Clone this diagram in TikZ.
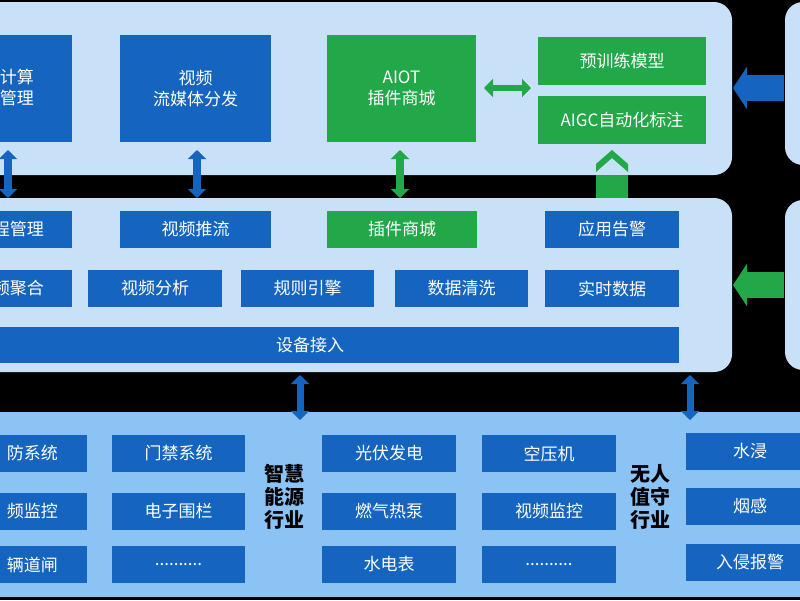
\documentclass[tikz,border=0pt]{standalone}
\usepackage{fontspec}
\setmainfont{Noto Sans CJK SC}
\usetikzlibrary{arrows.meta}
\definecolor{pnl}{RGB}{200,225,248}
\definecolor{pnlb}{RGB}{140,195,245}
\definecolor{bb}{RGB}{21,101,192}
\definecolor{gg}{RGB}{34,168,72}
\begin{document}
\begin{tikzpicture}[x=1pt,y=-1pt,
 box/.style={fill=bb,text=white,inner sep=0,align=center,font=\fontsize{17}{21}\selectfont},
 gbox/.style={box,fill=gg},
 dab/.style={line width=8pt,{Triangle[length=9pt,width=18pt]}-{Triangle[length=9pt,width=18pt]}},
 lab/.style={inner sep=0,align=center,font=\bfseries\fontsize{20}{23}\selectfont}]
\useasboundingbox (0,0) rectangle (800,600);
\clip (0,0) rectangle (800,600);
\fill[black] (0,0) rectangle (800,600);
% panels
\fill[pnl,rounded corners=18] (-40,2) rectangle (732,175);
\fill[pnl,rounded corners=18] (-40,198) rectangle (732,372);
\fill[pnl,rounded corners=18] (785,2) rectangle (840,165);
\fill[pnl,rounded corners=18] (785,200) rectangle (840,370);
\fill[pnlb] (-10,412) rectangle (810,597);
% top
\fill[bb] (-80,35) rectangle (72,142);
\node[box,fill=none,anchor=east] (t1) at (34,88) {计算\\管理};
\node[box,minimum width=151,minimum height=107] (t2) at (195.5,88.5) {视频\\流媒体分发};
\node[gbox,minimum width=149,minimum height=107] (t3) at (401.5,88.5) {AIOT\\插件商城};
\node[gbox,minimum width=168,minimum height=48] (t4) at (622,61) {预训练模型};
\node[gbox,minimum width=168,minimum height=48] (t5) at (622,120) {AIGC自动化标注};
\draw[dab,gg,line width=6pt] (484,88) -- (531,88);
% middle
\fill[bb] (-80,211) rectangle (72,248);
\node[box,fill=none,anchor=east] (m1) at (44,229.5) {程管理};
\node[box,minimum width=151,minimum height=37] (m2) at (195.5,229.5) {视频推流};
\node[gbox,minimum width=150,minimum height=37] (m3) at (402,229.5) {插件商城};
\node[box,minimum width=134,minimum height=37] (m4) at (612,229.5) {应用告警};
\fill[bb] (-80,270) rectangle (72,307);
\node[box,fill=none,anchor=east] (n1) at (44,288.5) {频聚合};
\node[box,minimum width=134,minimum height=37] (n2) at (155,288.5) {视频分析};
\node[box,minimum width=133,minimum height=37] (n3) at (307.5,288.5) {规则引擎};
\node[box,minimum width=133,minimum height=37] (n4) at (461.5,288.5) {数据清洗};
\node[box,minimum width=134,minimum height=37] (n5) at (612,288.5) {实时数据};
\fill[bb] (-80,327) rectangle (679,363);
\node[box,fill=none] (bar) at (310,345) {设备接入};
% vertical arrows top-middle
\draw[dab,bb] (8,150) -- (8,198);
\draw[dab,bb] (197,150) -- (197,198);
\draw[dab,gg] (400,150) -- (400,198);
\fill[gg] (596,175) rectangle (628,198);
\fill[gg] (596,172) -- (612,158) -- (628,172) -- (628,164) -- (612,150) -- (596,164) -- cycle;
% left arrows from right
\draw[bb,line width=26pt,-{Triangle[length=14pt,width=42pt]}] (784,88) -- (733,88);
\draw[gg,line width=26pt,-{Triangle[length=14pt,width=42pt]}] (784,285) -- (733,285);
% bottom arrows
\draw[dab,bb,line width=7pt] (300,375) -- (300,420);
\draw[dab,bb,line width=7pt] (690,375) -- (690,420);
% bottom boxes
\foreach \y/\t in {453.5/防系统,511/频监控,564.5/辆道闸}{
 \fill[bb] (-80,\y-18.5) rectangle (87,\y+18.5);
 \node[box,fill=none,anchor=east] at (58,\y) {\t};}
\node[box,minimum width=133,minimum height=37] (c21) at (178.5,453.5) {门禁系统};
\node[box,minimum width=133,minimum height=37] (c22) at (178.5,511) {电子围栏};
\node[box,minimum width=133,minimum height=37] (c23) at (178.5,564.5) {..........};
\node[box,minimum width=134,minimum height=37] (c31) at (389,453.5) {光伏发电};
\node[box,minimum width=134,minimum height=37] (c32) at (389,511) {燃气热泵};
\node[box,minimum width=134,minimum height=37] (c33) at (389,564.5) {水电表};
\node[box,minimum width=134,minimum height=37] (c41) at (549,453.5) {空压机};
\node[box,minimum width=134,minimum height=37] (c42) at (549,511) {视频监控};
\node[box,minimum width=134,minimum height=37] (c43) at (549,564.5) {..........};
\foreach \y/\t in {451/水浸,506/烟感,562/入侵报警}{
 \fill[bb] (686,\y-18.5) rectangle (840,\y+18.5);
 \node[box,fill=none] at (750,\y) {\t};}
\node[lab] (l1) at (284,497) {智慧\\能源\\行业};
\node[lab] (l2) at (650,497) {无人\\值守\\行业};
\end{tikzpicture}
\end{document}
